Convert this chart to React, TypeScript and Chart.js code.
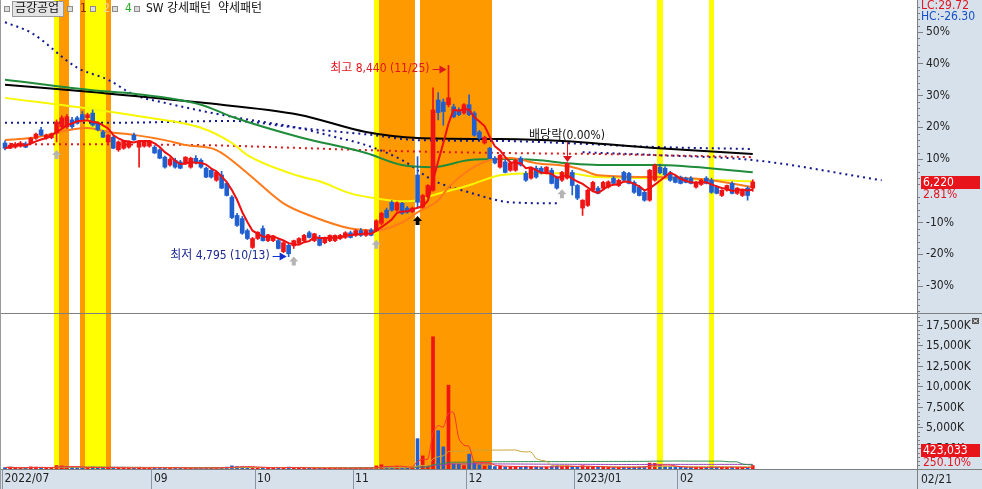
import React, { useEffect, useRef } from "react";
import { Chart, registerables } from "chart.js";

Chart.register(...registerables);

/* ================= DATA ================= */
const stockName = "금강공업";
const basePrice = 6050;
const peakDate = "11/25";
const troughDate = "10/13";
const lastDate = "02/21";
const dividendText = "배당락(0.00%)";
const dividendBar = 109;

const openP = [6960,6860,6880,6900,6940,6960,7050,7210,7050,7060,
7150,7270,7270,7400,7440,7500,7440,7530,7320,7170,
6980,7070,6830,6860,6880,7110,6880,6900,6900,6880,
6830,6690,6540,6630,6600,6580,6500,6670,6630,6480,
6440,6250,6350,6190,5930,5580,5520,5290,4970,5140,
5330,5100,5100,5100,4890,5010,5000,5050,5100,5250,
5100,5160,5060,5100,5100,5140,5160,5250,5200,5290,
5200,5300,5290,5430,5680,5830,5680,5810,5720,5650,
6350,5740,5930,6060,7780,7740,7690,7650,7590,7530,
7690,7530,7170,6960,6860,6670,6500,6600,6440,6440,
6670,6380,6290,6480,6480,6390,6440,6310,6250,6290,
6400,6150,5720,5770,6060,6100,6100,6120,6290,6150,
6400,6380,6210,6120,6020,5870,6250,6500,6480,6390,
6310,6310,6290,6290,6120,6170,6290,6250,6120,5960,
6060,6190,6000,5960,6100,6100];
const highP = [7000,6960,6970,6990,6980,7070,7150,7260,7130,7150,
7400,7480,7500,7450,7470,7560,7530,7590,7360,7200,
7120,7100,7000,7010,7000,7150,7000,7010,7010,6910,
6850,6710,6680,6670,6630,6700,6690,6720,6660,6500,
6480,6420,6420,6220,5960,5620,5560,5320,5160,5270,
5380,5220,5200,5140,5080,5050,5110,5160,5220,5280,
5240,5200,5170,5210,5210,5220,5270,5280,5310,5330,
5310,5330,5500,5640,5720,5860,5840,5830,5750,5740,
6700,5980,6170,8010,7920,7800,8440,7700,7630,7710,
7880,7560,7200,7090,6880,6700,6740,6640,6590,6650,
6700,6420,6490,6520,6510,6510,6480,6330,6420,6580,
6440,6170,5880,6080,6230,6130,6230,6240,6320,6270,
6420,6400,6240,6150,6050,6460,6560,6560,6510,6420,
6340,6330,6310,6320,6230,6270,6320,6290,6150,6070,
6160,6220,6110,6070,6130,6260];
const lowP = [6830,6850,6860,6880,6870,6940,7030,7100,7030,7040,
6980,7250,7240,7240,7320,7380,7420,7280,7190,7060,
6960,6850,6800,6840,6860,7010,6500,6880,6880,6760,
6660,6480,6520,6480,6470,6560,6480,6560,6480,6300,
6290,6230,6090,5950,5520,5370,5220,5120,4950,5120,
5090,5080,5080,4940,4870,4795,4950,5030,5080,5150,
5080,5000,5040,5080,5080,5120,5140,5150,5180,5180,
5180,5190,5270,5400,5530,5660,5660,5600,5620,5630,
5720,5720,5910,6040,7400,7300,7650,7440,7480,7510,
7480,7090,7030,6940,6660,6560,6480,6390,6420,6420,
6520,6230,6270,6290,6370,6370,6180,6080,6230,6270,
5970,5880,5580,5750,6040,5990,6080,6100,6180,6130,
6230,6180,6000,5950,5850,5850,6230,6370,6330,6230,
6200,6180,6200,6180,6100,6150,6180,6000,5990,5940,
6040,5990,5980,5940,5870,6040];
const closeP = [6860,6920,6940,6960,6880,7050,7130,7110,7110,7130,
7360,7440,7460,7270,7340,7400,7500,7300,7210,7070,
7110,6860,6980,7000,6990,7020,6990,6990,7000,6770,
6670,6500,6650,6500,6480,6690,6670,6580,6500,6310,
6310,6400,6100,5960,5540,5390,5240,5140,5140,5260,
5100,5210,5190,4950,5060,4850,5100,5140,5200,5160,
5230,5010,5160,5200,5200,5200,5250,5160,5290,5200,
5290,5200,5480,5620,5540,5680,5820,5620,5640,5720,
5830,5960,6150,7590,7540,7560,7820,7460,7500,7690,
7500,7110,7050,7070,6670,6580,6730,6400,6580,6630,
6540,6250,6480,6310,6390,6500,6190,6100,6400,6570,
6150,5910,5870,6060,6210,6000,6210,6220,6190,6250,
6250,6190,6020,5960,5870,6440,6540,6390,6350,6250,
6210,6190,6210,6190,6210,6250,6190,6020,6000,6060,
6150,6000,6100,6060,5960,6220];
const volume = [180000,220000,140000,120000,150000,260000,230000,190000,120000,140000,
420000,380000,310000,200000,150000,170000,160000,240000,190000,160000,
140000,180000,150000,110000,100000,130000,210000,120000,110000,150000,
160000,190000,120000,130000,140000,110000,120000,100000,110000,170000,
130000,120000,200000,230000,380000,300000,280000,240000,220000,180000,
170000,130000,120000,190000,160000,230000,150000,120000,110000,100000,
110000,130000,100000,90000,95000,100000,110000,90000,120000,110000,
100000,110000,380000,520000,300000,260000,310000,240000,180000,230000,
3700000,1600000,380000,16130000,4680000,2700000,10220000,600000,580000,420000,
1810000,740000,500000,360000,420000,300000,350000,280000,260000,300000,
240000,330000,280000,250000,220000,240000,300000,330000,280000,380000,
320000,290000,400000,310000,260000,220000,230000,200000,190000,210000,
220000,200000,240000,260000,280000,720000,680000,420000,300000,260000,
210000,200000,180000,190000,200000,180000,190000,260000,220000,200000,
190000,210000,180000,200000,120833,423033];

// long moving-average lines (at these bar indices)
const orangeIdx = [0,5,16,20,25,31,35,41,47,54,60,67,72,77,80,84,86,90,94,98,103,109,112,115,126,137,145];
const orangeVal = [7015,7055,7245,7170,7115,7015,6920,6825,6385,5810,5545,5330,5295,5445,5640,5870,6115,6445,6635,6675,6575,6520,6445,6345,6310,6250,6115];
const yellowIdx = [0,18,28,38,44,47,57,61,67,72,77,80,83,90,96,103,109,115,126,145];
const yellowVal = [7820,7590,7440,7250,6960,6730,6330,6230,6000,5905,5850,5870,5965,6155,6345,6385,6385,6310,6290,6230];
const greenIdx = [0,18,25,38,44,57,70,77,83,90,96,103,109,115,126,145];
const greenVal = [8165,7955,7900,7690,7460,7075,6770,6540,6500,6635,6655,6635,6575,6540,6540,6405];
const blackIdx = [0,18,38,57,70,80,96,108,126,145];
const blackVal = [8070,7920,7730,7500,7170,7055,7035,7000,6865,6750];
const spanAIdx = [0,5,14,20,25,31,44,57,64,70,77,83,90,98,107,110,112,126,145,170];
const spanAVal = [9260,9065,8395,8165,7880,7725,7460,7245,7075,6920,6635,6250,6020,5830,5810,null,6785,6730,6635,6250];
const spanBIdx = [0,20,44,57,71,80,96,108,126,145];
const spanBVal = [7345,7345,7380,7245,7115,7015,7000,6960,6885,6845];
const redDotIdx = [0,38,57,77,96,115,145];
const redDotVal = [6940,6920,6865,6805,6770,6750,6690];

// pattern highlight bars
const yellowBars = [10,16,17,18,19,72,127,137];
const orangeBars = [11,12,15,20,73,74,75,76,77,78,79,81,82,83,84,85,86,87,88,89,90,91,92,93,94];
const greyArrowBars = [10,56,72,108];
const blackArrowBars = [80];

// axis ticks
const monthTickIdx = [-0.5,28.5,48.5,67.5,89.5,110.5,130.5];
const monthLabels = ["2022/07","09","10","11","12","2023/01","02"];
const pctTicks = [-30,-20,-10,10,20,30,40,50];
const volTicks = [2500000,5000000,7500000,10000000,12500000,15000000,17500000];

const legendEntries = [
  { text: "1", color: "#8b2500" },
  { text: "2", color: "#f3dc9a" },
  { text: "4", color: "#22b022" },
  { text: "SW 강세패턴  약세패턴", color: "#111111" },
];

/* ================= LAYOUT / STYLE ================= */
const W = 982;
const PRICE_H = 313;
const VOL_H = 176;
const AXIS_W = 65;
const X_MIN = -0.97;
const X_MAX = 176.85;
const Y_MAX = 60.08;
const Y_MIN = -38.5;
const VOL_MAX = 18900000;
const FONT = '"Liberation Sans Narrow", "DejaVu Sans Condensed", "Liberation Sans", "Noto Sans CJK KR", sans-serif';
const PANEL_BG = "#d7e1ec";
const AXIS_LINE = "#7f7f7f";
const UP = "#f01414";
const DOWN = "#1f5fd0";
const BAND_Y = "#ffff00";
const BAND_O = "#ff9900";

const pct = (p: number) => (p / basePrice - 1) * 100;
const idxs = closeP.map((_, i) => i);
const isUp = idxs.map((i) => closeP[i] >= openP[i]);
const kp = (ix: number[], vals: (number | null)[]) =>
  ix.map((x, k) => ({ x, y: vals[k] == null ? null : pct(vals[k] as number) }));
const sma = (arr: number[], n: number) =>
  arr.map((_, i) => {
    const s = Math.max(0, i - n + 1);
    let sum = 0;
    for (let j = s; j <= i; j++) sum += arr[j];
    return sum / (i - s + 1);
  });
const fmt = (n: number) => n.toLocaleString("en-US");
const noPad = (s: any) => {
  s.paddingTop = 0;
  s.paddingBottom = 0;
  s.paddingLeft = 0;
  s.paddingRight = 0;
};

function drawBands(chart: any) {
  const { ctx, chartArea: a, scales } = chart;
  const xs = scales.x;
  ctx.save();
  const fill = (bars: number[], color: string) => {
    ctx.fillStyle = color;
    bars.forEach((b) => {
      const x1 = Math.round(xs.getPixelForValue(b - 0.5));
      const x2 = Math.round(xs.getPixelForValue(b + 0.5));
      ctx.fillRect(x1, a.top, x2 - x1, a.bottom - a.top);
    });
  };
  fill(yellowBars, BAND_Y);
  fill(orangeBars, BAND_O);
  ctx.restore();
}

function upArrow(ctx: CanvasRenderingContext2D, x: number, y: number, fill: string) {
  ctx.fillStyle = fill;
  ctx.beginPath();
  ctx.moveTo(x, y);
  ctx.lineTo(x + 4.5, y + 5);
  ctx.lineTo(x + 2, y + 5);
  ctx.lineTo(x + 2, y + 9);
  ctx.lineTo(x - 2, y + 9);
  ctx.lineTo(x - 2, y + 5);
  ctx.lineTo(x - 4.5, y + 5);
  ctx.closePath();
  ctx.fill();
}

function rightArrow(ctx: CanvasRenderingContext2D, x1: number, x2: number, y: number, color: string) {
  ctx.strokeStyle = color;
  ctx.fillStyle = color;
  ctx.lineWidth = 1;
  ctx.beginPath();
  ctx.moveTo(x1, y + 0.5);
  ctx.lineTo(x2 - 5, y + 0.5);
  ctx.stroke();
  ctx.beginPath();
  ctx.moveTo(x2, y + 0.5);
  ctx.lineTo(x2 - 7, y - 3.5);
  ctx.lineTo(x2 - 7, y + 4.5);
  ctx.closePath();
  ctx.fill();
}

const priceBg = {
  id: "priceBg",
  beforeDraw(chart: any) {
    const { ctx, chartArea: a, width, height } = chart;
    ctx.save();
    ctx.fillStyle = "#ffffff";
    ctx.fillRect(0, 0, width, height);
    ctx.fillStyle = PANEL_BG;
    ctx.fillRect(a.right, 0, width - a.right, height);
    ctx.restore();
  },
  beforeDatasetsDraw(chart: any) {
    drawBands(chart);
  },
  afterDraw(chart: any) {
    const { ctx, chartArea: a, scales } = chart;
    const xs = scales.x;
    const ys = scales.y;
    const px = (i: number) => xs.getPixelForValue(i);
    const py = (p: number) => ys.getPixelForValue(pct(p));
    ctx.save();
    // minor ticks
    ctx.strokeStyle = AXIS_LINE;
    ctx.lineWidth = 1;
    for (let v = -38; v <= 60; v += 2) {
      if (v % 10 === 0) continue;
      const y = Math.round(ys.getPixelForValue(v)) + 0.5;
      ctx.beginPath();
      ctx.moveTo(a.right, y);
      ctx.lineTo(a.right + 3, y);
      ctx.stroke();
    }
    // left border
    ctx.strokeStyle = "#9a9a9a";
    ctx.beginPath();
    ctx.moveTo(0.5, 0);
    ctx.lineTo(0.5, chart.height);
    ctx.stroke();

    ctx.font = `12px ${FONT}`;
    ctx.textBaseline = "middle";
    ctx.textAlign = "left";
    // legend
    const ly = 9;
    const sq = (x: number) => {
      ctx.fillStyle = "#8c8c8c";
      ctx.fillRect(x, ly - 3, 6, 6);
      ctx.fillStyle = "#dcdcdc";
      ctx.fillRect(x + 1, ly - 2, 4, 4);
    };
    sq(4);
    ctx.fillStyle = "#e4e4e4";
    ctx.fillRect(12, 1, 52, 16);
    ctx.strokeStyle = "#9a9a9a";
    ctx.strokeRect(12.5, 1.5, 51, 15);
    ctx.fillStyle = "#111";
    ctx.fillText(stockName, 15, ly);
    const lx = [67, 90, 112, 134];
    legendEntries.forEach((e, k) => {
      sq(lx[k]);
      ctx.fillStyle = e.color;
      ctx.fillText(e.text, lx[k] + (k === 3 ? 12 : 13), ly);
    });

    // signal arrows
    greyArrowBars.forEach((b) => upArrow(ctx, px(b), py(lowP[b]) + 8, "#b4b4b4"));
    blackArrowBars.forEach((b) => upArrow(ctx, px(b), py(lowP[b]) + 8, "#000000"));

    // peak / trough labels
    let hi = 0, lo = 0;
    idxs.forEach((i) => {
      if (highP[i] > highP[hi]) hi = i;
      if (lowP[i] < lowP[lo]) lo = i;
    });
    const hx = px(hi), hy = py(highP[hi]) + 4;
    ctx.textAlign = "right";
    ctx.fillStyle = "#e0141e";
    ctx.fillText(`최고 ${fmt(highP[hi])} (${peakDate})`, hx - 19, hy);
    rightArrow(ctx, hx - 16, hx - 2, Math.round(hy), "#e0141e");
    const lxp = px(lo), lyp = py(lowP[lo]) - 1;
    ctx.fillStyle = "#1c2890";
    ctx.fillText(`최저 ${fmt(lowP[lo])} (${troughDate})`, lxp - 19, lyp);
    rightArrow(ctx, lxp - 16, lxp - 2, Math.round(lyp), "#1030d0");

    // dividend marker
    const dx = Math.round(px(dividendBar));
    const dHigh = py(highP[dividendBar]);
    ctx.textAlign = "center";
    ctx.fillStyle = "#111";
    ctx.fillText(dividendText, dx, dHigh - 27);
    ctx.strokeStyle = "#e0141e";
    ctx.beginPath();
    ctx.moveTo(dx + 0.5, dHigh - 21);
    ctx.lineTo(dx + 0.5, dHigh - 7);
    ctx.stroke();
    ctx.fillStyle = "#e0141e";
    ctx.beginPath();
    ctx.moveTo(dx - 4, dHigh - 7);
    ctx.lineTo(dx + 5, dHigh - 7);
    ctx.lineTo(dx + 0.5, dHigh - 1);
    ctx.closePath();
    ctx.fill();

    // right axis: LC/HC and current price box
    const last = closeP[closeP.length - 1];
    ctx.textAlign = "left";
    ctx.fillStyle = "#e0141e";
    ctx.fillText(`LC:${((last - lowP[lo]) / lowP[lo] * 100).toFixed(2)}`, a.right + 4, 6);
    ctx.fillStyle = "#1450c8";
    ctx.fillText(`HC:${((last - highP[hi]) / highP[hi] * 100).toFixed(2)}`, a.right + 4, 17);
    const cy = Math.round(py(last));
    ctx.fillStyle = PANEL_BG;
    ctx.fillRect(a.right + 4, cy + 6, 60, 12);
    ctx.fillStyle = "#e8141c";
    ctx.fillRect(a.right + 4, cy - 6, 59, 13);
    ctx.fillStyle = "#ffffff";
    ctx.fillText(fmt(last), a.right + 6, cy + 0.5);
    ctx.fillStyle = "#e0141e";
    ctx.fillText(`${pct(last).toFixed(2)}%`, a.right + 6, cy + 13);
    ctx.restore();
  },
};

const volBg = {
  id: "volBg",
  beforeDraw(chart: any) {
    const { ctx, chartArea: a, width, height } = chart;
    ctx.save();
    ctx.fillStyle = "#ffffff";
    ctx.fillRect(0, 0, width, height);
    ctx.fillStyle = PANEL_BG;
    ctx.fillRect(a.right, 0, width - a.right, height);
    ctx.fillRect(0, a.bottom, width, height - a.bottom);
    ctx.restore();
  },
  beforeDatasetsDraw(chart: any) {
    drawBands(chart);
  },
  afterDraw(chart: any) {
    const { ctx, chartArea: a, scales, width, height } = chart;
    const ys = scales.y;
    ctx.save();
    ctx.strokeStyle = AXIS_LINE;
    ctx.lineWidth = 1;
    // separators
    ctx.beginPath();
    ctx.moveTo(0, 0.5);
    ctx.lineTo(width, 0.5);
    ctx.moveTo(0, a.bottom + 0.5);
    ctx.lineTo(width, a.bottom + 0.5);
    ctx.moveTo(a.right + 0.5, a.bottom);
    ctx.lineTo(a.right + 0.5, height);
    ctx.stroke();
    ctx.strokeStyle = "#9a9a9a";
    ctx.beginPath();
    ctx.moveTo(0.5, 0);
    ctx.lineTo(0.5, height);
    ctx.stroke();
    // minor ticks
    ctx.strokeStyle = AXIS_LINE;
    for (let v = 500000; v < VOL_MAX; v += 500000) {
      if (v % 2500000 === 0) continue;
      const y = Math.round(ys.getPixelForValue(v)) + 0.5;
      ctx.beginPath();
      ctx.moveTo(a.right, y);
      ctx.lineTo(a.right + 3, y);
      ctx.stroke();
    }
    // close icon
    ctx.fillStyle = "#555";
    ctx.fillRect(width - 10, 5, 7, 6);
    ctx.strokeStyle = "#fff";
    ctx.beginPath();
    ctx.moveTo(width - 8.5, 6.5);
    ctx.lineTo(width - 4.5, 9.5);
    ctx.moveTo(width - 4.5, 6.5);
    ctx.lineTo(width - 8.5, 9.5);
    ctx.stroke();
    // last volume box
    const lv = volume[volume.length - 1];
    const pv = volume[volume.length - 2];
    const by = Math.min(Math.round(ys.getPixelForValue(lv)), a.bottom - 19);
    ctx.font = `12px ${FONT}`;
    ctx.textBaseline = "middle";
    ctx.textAlign = "left";
    ctx.fillStyle = PANEL_BG;
    ctx.fillRect(a.right + 4, by + 6, 60, 12);
    ctx.fillStyle = "#e8141c";
    ctx.fillRect(a.right + 4, by - 6, 59, 13);
    ctx.fillStyle = "#fff";
    ctx.fillText(fmt(lv), a.right + 6, by + 0.5);
    ctx.fillStyle = "#e0141e";
    ctx.fillText(`${((lv / pv - 1) * 100).toFixed(2)}%`, a.right + 6, by + 13);
    // current date label
    ctx.fillStyle = "#222";
    ctx.fillText(lastDate, a.right + 4, a.bottom + 10.5);
    ctx.restore();
  },
};

function priceConfig(): any {
  const dotted = (data: any, color: string, order: number) => ({
    type: "line", data, borderColor: color, borderWidth: 2, borderDash: [2, 4],
    pointRadius: 0, tension: 0.4, cubicInterpolationMode: "monotone", spanGaps: false, order,
  });
  const solid = (data: any, color: string, order: number) => ({
    type: "line", data, borderColor: color, borderWidth: 2, pointRadius: 0,
    tension: 0.4, cubicInterpolationMode: "monotone", order,
  });
  const ma5 = sma(closeP, 5);
  return {
    type: "bar",
    data: {
      datasets: [
        { type: "line", label: "MA5", data: ma5.map((v, i) => ({ x: i, y: pct(v) })), borderColor: "#ee1010", borderWidth: 2, pointRadius: 0, tension: 0, order: 1 },
        { type: "bar", label: "body", data: idxs.map((i) => ({ x: i, y: [pct(openP[i]), pct(closeP[i])] })), backgroundColor: isUp.map((u) => (u ? UP : DOWN)), barThickness: 4, grouped: false, minBarLength: 1, order: 2 },
        { type: "bar", label: "wick", data: idxs.map((i) => ({ x: i, y: [pct(lowP[i]), pct(highP[i])] })), backgroundColor: isUp.map((u) => (u ? UP : DOWN)), barThickness: 1, grouped: false, order: 3 },
        solid(kp(orangeIdx, orangeVal), "#ff7a1a", 4),
        solid(kp(yellowIdx, yellowVal), "#f7f700", 5),
        solid(kp(greenIdx, greenVal), "#1e8c3a", 6),
        solid(kp(blackIdx, blackVal), "#000000", 7),
        dotted(kp(redDotIdx, redDotVal), "#e01818", 8),
        dotted(kp(spanBIdx, spanBVal), "#121890", 9),
        dotted(kp(spanAIdx, spanAVal), "#121890", 10),
      ],
    },
    options: {
      responsive: false,
      devicePixelRatio: 1,
      animation: false,
      events: [],
      layout: { padding: 0 },
      plugins: { legend: { display: false }, tooltip: { enabled: false } },
      scales: {
        x: { type: "linear", display: false, min: X_MIN, max: X_MAX, offset: false, grid: { offset: false } },
        y: {
          type: "linear", position: "right", min: Y_MIN, max: Y_MAX,
          afterBuildTicks: (s: any) => { s.ticks = pctTicks.map((v) => ({ value: v })); },
          afterFit: (s: any) => { s.width = AXIS_W; noPad(s); },
          ticks: { callback: (v: any) => `${v}%`, font: { family: FONT, size: 12 }, color: "#222", padding: 3, autoSkip: false },
          grid: { drawOnChartArea: false, drawTicks: true, tickLength: 6, color: AXIS_LINE },
          border: { display: true, color: AXIS_LINE },
        },
      },
    },
    plugins: [priceBg],
  };
}

function volConfig(): any {
  const line = (data: number[], color: string, order: number) => ({
    type: "line", data: data.map((v, i) => ({ x: i, y: v })), borderColor: color,
    borderWidth: 1, pointRadius: 0, tension: 0.3, order,
  });
  return {
    type: "bar",
    data: {
      datasets: [
        line(sma(volume, 5), "#ff3030", 1),
        line(sma(volume, 20), "#c9a43a", 2),
        line(sma(volume, 60), "#2f8f4f", 3),
        line(sma(volume, 120), "#9b3fb5", 4),
        { type: "bar", label: "volume", data: idxs.map((i) => ({ x: i, y: volume[i] })), backgroundColor: isUp.map((u) => (u ? UP : DOWN)), barThickness: 3, grouped: false, order: 5 },
      ],
    },
    options: {
      responsive: false,
      devicePixelRatio: 1,
      animation: false,
      events: [],
      layout: { padding: { top: 1, left: 0, right: 0, bottom: 0 } },
      plugins: { legend: { display: false }, tooltip: { enabled: false } },
      scales: {
        x: {
          type: "linear", position: "bottom", min: X_MIN, max: X_MAX, offset: false,
          afterBuildTicks: (s: any) => { s.ticks = monthTickIdx.map((v) => ({ value: v })); },
          afterFit: (s: any) => { s.height = 20; noPad(s); },
          ticks: {
            callback: (_v: any, i: number) => monthLabels[i], autoSkip: false, maxRotation: 0, minRotation: 0,
            align: "start", labelOffset: 2, padding: -17, font: { family: FONT, size: 12 }, color: "#222",
          },
          grid: { offset: false, drawOnChartArea: false, drawTicks: true, tickLength: 20, color: "#8a94a2" },
          border: { display: false },
        },
        y: {
          type: "linear", position: "right", min: 0, max: VOL_MAX,
          afterBuildTicks: (s: any) => { s.ticks = volTicks.map((v) => ({ value: v })); },
          afterFit: (s: any) => { s.width = AXIS_W; noPad(s); },
          ticks: { callback: (v: any) => `${fmt(v / 1000)}K`, font: { family: FONT, size: 12 }, color: "#222", padding: 3, autoSkip: false },
          grid: { drawOnChartArea: false, drawTicks: true, tickLength: 6, color: AXIS_LINE },
          border: { display: true, color: AXIS_LINE },
        },
      },
    },
    plugins: [volBg],
  };
}

export default function App() {
  const priceRef = useRef<HTMLCanvasElement>(null);
  const volRef = useRef<HTMLCanvasElement>(null);
  useEffect(() => {
    document.body.style.margin = "0";
    const pc = new Chart(priceRef.current as HTMLCanvasElement, priceConfig());
    const vc = new Chart(volRef.current as HTMLCanvasElement, volConfig());
    return () => {
      pc.destroy();
      vc.destroy();
    };
  }, []);
  return (
    <div style={{ position: "relative", width: W, height: PRICE_H + VOL_H, overflow: "hidden", background: "#fff" }}>
      <canvas ref={priceRef} width={W} height={PRICE_H} style={{ position: "absolute", left: 0, top: 0, width: W, height: PRICE_H }} />
      <canvas ref={volRef} width={W} height={VOL_H} style={{ position: "absolute", left: 0, top: PRICE_H, width: W, height: VOL_H }} />
    </div>
  );
}
